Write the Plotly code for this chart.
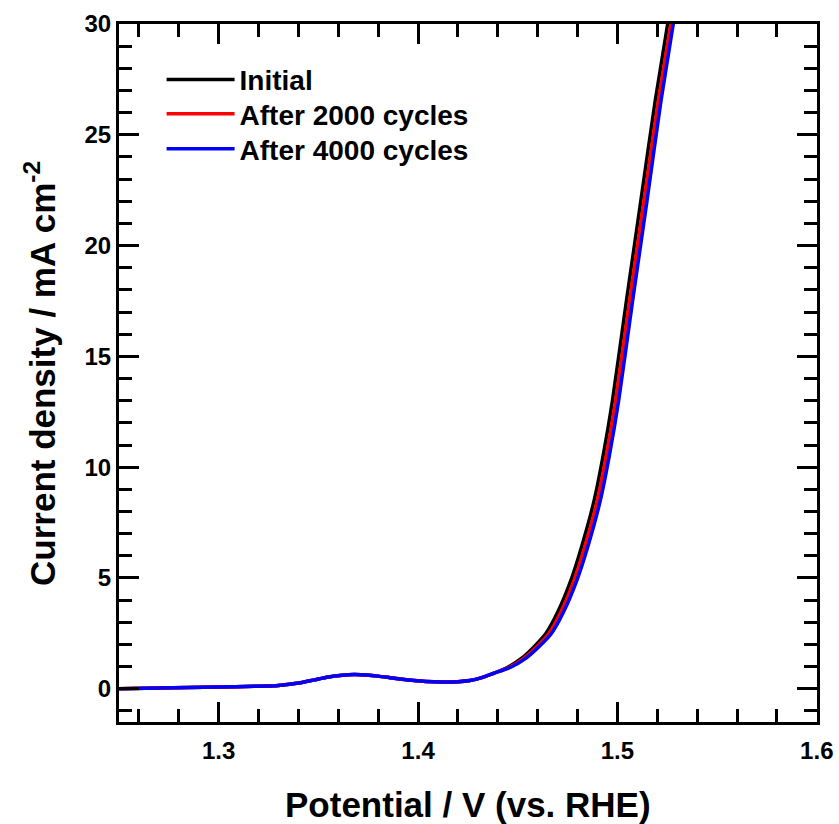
import plotly.graph_objects as go

# ---- data ----
J_common = [0.00, 0.03, 0.08, 0.11, 0.15, 0.27, 0.40, 0.53, 0.61, 0.64, 0.62, 0.57, 0.50,
            0.43, 0.37, 0.33, 0.31, 0.32, 0.37, 0.50, 0.70, 0.97, 1.38, 1.88, 2.48, 3.45,
            4.88, 6.4, 8.49, 10.6, 13.0, 17.5, 22.0, 26.5, 30.0, 33.2]

V_initial = [1.250, 1.270, 1.300, 1.318, 1.330, 1.341, 1.348, 1.355, 1.362, 1.368, 1.374,
             1.380, 1.386, 1.392, 1.398, 1.404, 1.412, 1.420, 1.426, 1.432, 1.438, 1.445,
             1.452, 1.458, 1.464, 1.470, 1.4766, 1.482, 1.4883, 1.493, 1.4975, 1.5045,
             1.5117, 1.5189, 1.5252, 1.5302]

V_2000 = [1.250, 1.270, 1.300, 1.318, 1.330, 1.341, 1.348, 1.355, 1.362, 1.368, 1.374,
          1.380, 1.386, 1.392, 1.398, 1.404, 1.412, 1.420, 1.426, 1.432, 1.438, 1.4458,
          1.4532, 1.4594, 1.4655, 1.4716, 1.4782, 1.4836, 1.4899, 1.4946, 1.4991, 1.5061,
          1.5133, 1.5205, 1.5268, 1.5318]

V_4000 = [1.250, 1.270, 1.300, 1.318, 1.330, 1.341, 1.348, 1.355, 1.362, 1.368, 1.374,
          1.380, 1.386, 1.392, 1.398, 1.404, 1.412, 1.420, 1.426, 1.432, 1.438, 1.4465,
          1.4542, 1.4605, 1.4668, 1.4729, 1.4796, 1.4851, 1.4914, 1.4961, 1.5006, 1.5076,
          1.5148, 1.5218, 1.5280, 1.5330]

series_names = ["Initial", "After 2000 cycles", "After 4000 cycles"]
series_colors = ["#000000", "#ff0000", "#0000ff"]
series_V = [V_initial, V_2000, V_4000]
legend_ids = ["legend", "legend2", "legend3"]
legend_y = [0.920, 0.871, 0.821]

x_title = "Potential / V (vs. RHE)"
y_title = "Current density / mA cm<sup>-2</sup>"

FONT = "Arial, Liberation Sans, sans-serif"

fig = go.Figure()
for name, color, V, lg in zip(series_names, series_colors, series_V, legend_ids):
    fig.add_trace(go.Scatter(
        x=V, y=J_common, mode="lines", name=name, legend=lg, showlegend=True,
        line=dict(color=color, width=3.5, shape="spline", smoothing=0.6),
    ))

axis_common = dict(
    showline=True, linewidth=3, linecolor="black", mirror="ticks",
    ticks="inside", ticklen=20, tickwidth=3, tickcolor="black",
    showgrid=False, zeroline=False, automargin=False,
    tickfont=dict(family=FONT, size=24, color="black", weight="bold"),
)

fig.update_xaxes(
    range=[1.25, 1.6001], tick0=1.3, dtick=0.1, tickformat=".1f",
    ticklabelstandoff=5,
    minor=dict(ticks="inside", ticklen=13, tickwidth=3, tickcolor="black", tick0=1.3, dtick=0.02),
    **axis_common,
)
fig.update_yaxes(
    range=[-1.5, 30.001], tick0=0, dtick=5,
    minor=dict(ticks="inside", ticklen=13, tickwidth=3, tickcolor="black", tick0=0, dtick=1),
    **axis_common,
)

title_font = dict(family=FONT, size=35, color="black", weight="bold")
fig.add_annotation(text=x_title, xref="paper", yref="paper", x=0.5, y=-0.1189,
                   xanchor="center", yanchor="middle", showarrow=False, font=title_font)
fig.add_annotation(text=y_title, xref="paper", yref="paper", x=-0.1132, y=0.5,
                   xanchor="center", yanchor="middle", showarrow=False, textangle=-90,
                   font=title_font)

legend_style = dict(
    x=0.061, xanchor="left", yanchor="middle",
    bgcolor="rgba(0,0,0,0)", borderwidth=0,
    font=dict(family=FONT, size=28, color="black", weight="bold"),
    itemwidth=68,
)

fig.update_layout(
    width=839, height=824,
    margin=dict(l=119, r=22, t=24, b=102, autoexpand=False),
    plot_bgcolor="white", paper_bgcolor="white",
    showlegend=True,
    legend=dict(y=legend_y[0], **legend_style),
    legend2=dict(y=legend_y[1], **legend_style),
    legend3=dict(y=legend_y[2], **legend_style),
)

fig.write_html("out.html")
